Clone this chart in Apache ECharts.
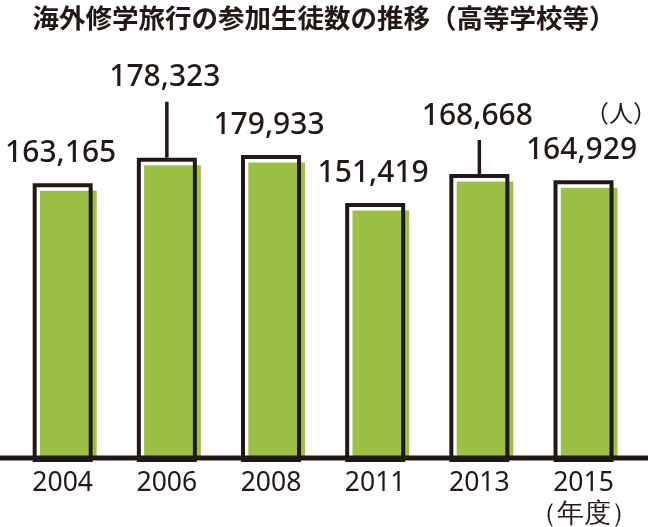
<!DOCTYPE html>
<html>
<head>
<meta charset="utf-8">
<script src="https://cdn.jsdelivr.net/npm/echarts@6/dist/echarts.min.js"></script>
<style>
html,body{margin:0;padding:0;background:#fff;}
#main{width:648px;height:527px;}
</style>
</head>
<body>
<div id="main"></div>
<script>
const titleText = '海外修学旅行の参加生徒数の推移（高等学校等）';
const years = ['2004', '2006', '2008', '2011', '2013', '2015'];
const students = [163165, 178323, 179933, 151419, 168668, 164929];
const unitLabel = '（人）';
const yearUnit = '（年度）';

const INK = '#231815';
const GREEN = '#9cbf45';
// extra lift (px) for labels drawn with a leader line
const labelLift = [0, 50, 0, 0, 28, 0];

const chart = echarts.init(document.getElementById('main'), null, {renderer: 'canvas'});

function fmt(v) { return v.toLocaleString('en-US'); }

const option = {
  animation: false,
  backgroundColor: '#fff',
  title: {
    text: titleText,
    left: 'center',
    top: 0,
    textStyle: {fontFamily: 'Noto Sans CJK JP', fontSize: 26.5, fontWeight: 'bold', color: INK}
  },
  grid: {left: 10.6, right: 12.4, top: 121.2, bottom: 69, containLabel: false, outerBoundsMode: 'none'},
  xAxis: {
    type: 'category',
    data: years,
    axisLine: {show: false},
    axisTick: {show: false},
    axisLabel: {
      interval: 0,
      margin: 10,
      fontFamily: 'Noto Sans',
      fontSize: 26.5,
      color: INK,
      lineHeight: 31,
      formatter: function (v, i) { return i === years.length - 1 ? v + '\n' + yearUnit : v; }
    }
  },
  yAxis: {type: 'value', min: 0, max: 200000, show: false, splitLine: {show: false}},
  series: [{
    type: 'custom',
    data: students.map((v, i) => [i, v]),
    renderItem: function (params, api) {
      const i = params.dataIndex;
      const p = api.coord([api.value(0), api.value(1)]);
      const b = api.coord([api.value(0), 0]);
      const cx = p[0], top = p[1], by = b[1];
      const half = 30, sw = 4;
      const children = [
        {type: 'rect', shape: {x: cx - half + 7.3, y: top + 7.5, width: 56.7, height: by - top - 7.5},
         style: {fill: GREEN}},
        {type: 'rect', shape: {x: cx - half + sw / 2, y: top + sw / 2, width: 2 * half - sw, height: by - top},
         style: {fill: null, stroke: INK, lineWidth: sw}}
      ];
      const lift = labelLift[i];
      const textBottom = top - 15 - lift;
      if (lift > 0) {
        children.push({type: 'line', shape: {x1: cx, y1: top, x2: cx, y2: top - lift - 6},
          style: {stroke: INK, lineWidth: 3.5}});
      }
      children.push({type: 'text', x: cx - 2, y: textBottom,
        style: {text: fmt(api.value(1)), fontFamily: 'Noto Sans', fontSize: 30, fontWeight: 500,
          fill: INK, align: 'center', verticalAlign: 'bottom'}});
      return {type: 'group', children: children};
    }
  }]
};
chart.setOption(option);

const baseY = chart.convertToPixel({gridIndex: 0}, [0, 0])[1];
chart.setOption({
  graphic: [
    {type: 'line', z: 100, shape: {x1: 0, y1: baseY, x2: 648, y2: baseY}, style: {stroke: INK, lineWidth: 5}},
    {type: 'text', z: 100, right: -9, top: 101, style: {text: unitLabel, fontFamily: 'Noto Sans CJK JP', fontSize: 24, fill: INK}}
  ]
});
</script>
</body>
</html>
